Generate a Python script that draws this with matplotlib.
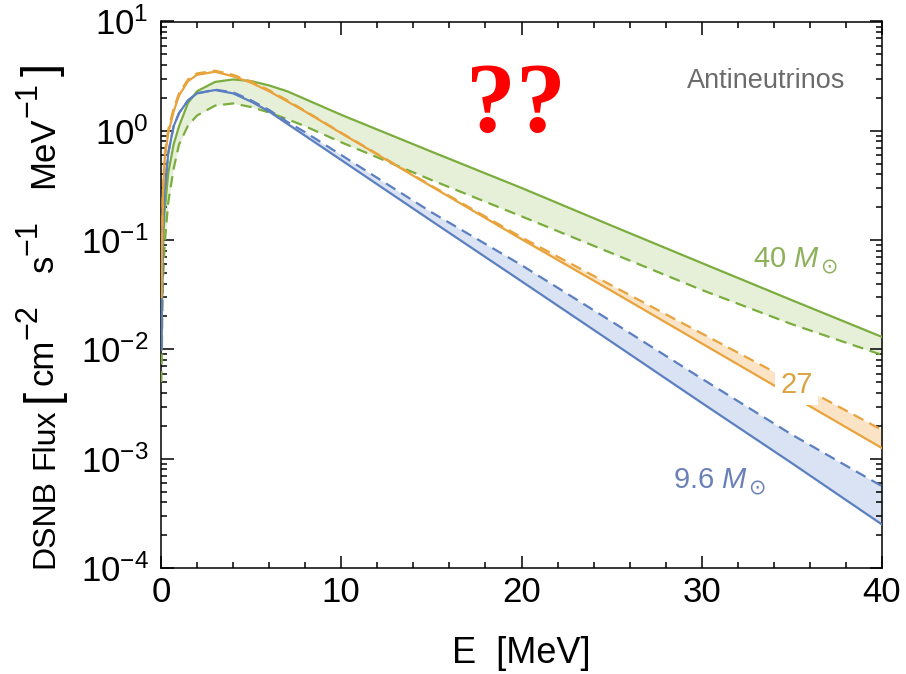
import matplotlib
matplotlib.use("Agg")
import matplotlib.pyplot as plt
from matplotlib.ticker import LogLocator, MultipleLocator, NullFormatter

plt.rcParams["font.family"] = ["Liberation Sans", "DejaVu Sans"]
plt.rcParams["mathtext.fontset"] = "custom"
plt.rcParams["mathtext.rm"] = "Liberation Sans"
plt.rcParams["mathtext.it"] = "Liberation Sans:italic"
plt.rcParams["mathtext.bf"] = "Liberation Sans:bold"

# Energy grid (MeV) and fluxes
energy = [0.02, 0.1, 0.2, 0.4, 0.7, 1.0, 1.5, 2.0, 3.0, 4.0, 5.0, 6.0, 7.0, 8.0,
          10, 15, 20, 25, 30, 35, 40]

flux_96_solid = [0.01, 0.12, 0.28, 0.62, 1.1, 1.45, 1.9, 2.2, 2.36, 2.2, 1.85,
                 1.5, 1.16, 0.9, 0.54, 0.15, 0.042, 0.0117, 0.00324, 0.00091, 0.00025]
flux_96_dashed = [0.01, 0.12, 0.28, 0.62, 1.1, 1.45, 1.9, 2.2, 2.38, 2.25, 1.9,
                  1.55, 1.21, 0.97, 0.60, 0.18, 0.059, 0.018, 0.0054, 0.00166, 0.00056]

flux_27_solid = [0.03, 0.25, 0.55, 0.95, 1.5, 2.1, 2.85, 3.25, 3.47, 3.15, 2.75,
                 2.3, 1.86, 1.5, 0.95, 0.31, 0.102, 0.0343, 0.01135, 0.00376, 0.00125]
flux_27_dashed = [0.03, 0.27, 0.6, 1.02, 1.6, 2.2, 2.95, 3.35, 3.55, 3.25, 2.82,
                  2.35, 1.9, 1.52, 0.96, 0.315, 0.106, 0.0385, 0.0140, 0.0051, 0.00183]

flux_40_solid = [0.01, 0.08, 0.18, 0.41, 0.75, 1.1, 1.8, 2.3, 2.8, 2.95, 2.85,
                 2.6, 2.3, 1.95, 1.4, 0.645, 0.3, 0.1355, 0.0617, 0.0282, 0.013]
flux_40_dashed = [0.005, 0.04, 0.09, 0.22, 0.45, 0.75, 1.12, 1.38, 1.7, 1.78, 1.65,
                  1.47, 1.28, 1.1, 0.785, 0.355, 0.165, 0.076, 0.035, 0.017, 0.0089]

blue = "#5b7fc0"
orange = "#e8a33c"
green = "#7bad3e"

W, H = 906, 674
fig = plt.figure(figsize=(W / 100, H / 100), dpi=100)
ax = fig.add_axes([161 / W, 1 - 568 / H, 721 / W, 546.5 / H])

# shaded bands between solid and dashed
ax.fill_between(energy, flux_40_solid, flux_40_dashed, color="#e6f0d8", lw=0, zorder=1)
ax.fill_between(energy, flux_96_solid, flux_96_dashed, color="#dae3f3", lw=0, zorder=1)
ax.fill_between(energy, flux_27_solid, flux_27_dashed, color="#fbe4c6", lw=0, zorder=1)

dash = (0, (5, 3))
ax.plot(energy, flux_40_solid, color=green, lw=1.6, zorder=3)
ax.plot(energy, flux_40_dashed, color=green, lw=1.6, ls=dash, zorder=3)
ax.plot(energy, flux_96_solid, color=blue, lw=1.6, zorder=3)
ax.plot(energy, flux_96_dashed, color=blue, lw=1.6, ls=dash, zorder=3)
ax.plot(energy, flux_27_solid, color=orange, lw=1.6, zorder=3)
ax.plot(energy, flux_27_dashed, color=orange, lw=1.6, ls=dash, zorder=3)

ax.set_yscale("log")
ax.set_xlim(0, 40)
ax.set_ylim(1e-4, 10)

ax.xaxis.set_major_locator(MultipleLocator(10))
ax.xaxis.set_minor_locator(MultipleLocator(2))
ax.yaxis.set_major_locator(LogLocator(base=10, numticks=10))
ax.yaxis.set_minor_locator(LogLocator(base=10, subs=range(2, 10), numticks=20))
ax.yaxis.set_minor_formatter(NullFormatter())

ax.tick_params(which="both", direction="in", top=True, right=True,
               labelsize=25, width=1.1)
ax.tick_params(which="major", length=9)
ax.tick_params(which="minor", length=4.5)
ax.tick_params(axis="x", pad=6)
ax.tick_params(axis="y", pad=9)
for s in ax.spines.values():
    s.set_linewidth(1.1)

ax.set_xlabel("E  [MeV]", fontsize=26, labelpad=19)

# y label built piece by piece: tall brackets, large superscripts
# (text, fontsize, gap before in px, raise in px)
renderer = fig.canvas.get_renderer()
pieces = [("DSNB", 23, 0, 0), ("Flux", 23, 10, 0), ("[", 34, 6, -2),
          ("cm", 25, 4, 0), ("\u22122", 22, 0, 16),
          ("s", 25, 32, 0), ("\u22121", 22, 0, 16),
          ("MeV", 25, 32, 0), ("\u22121", 22, 0, 16), ("]", 34, 6, -2)]
y_px = 568
for text, size, gap, lift in pieces:
    y_px -= gap
    t = fig.text((53 - lift) / W, 1 - y_px / H, text, fontsize=size, rotation=90,
                 rotation_mode="anchor", ha="left", va="baseline")
    ext = t.get_window_extent(renderer)
    y_px = H - ext.y1

ax.text(33.6, 2.46, "Antineutrinos", color="#6b6b6b", fontsize=19.5,
        ha="center", va="baseline", zorder=5)

# mass labels: "M" followed by a larger sun symbol set slightly low
for xe, ye, txt, col in [(36.55, 0.0566, r"40 $M$", "#8db05a"),
                         (32.56, 5.37e-4, r"9.6 $M$", "#6a80b8")]:
    ax.text(xe, ye, txt, color=col, fontsize=21, ha="right", va="baseline", zorder=5)
    ax.annotate("\u2299", xy=(xe, ye), xytext=(0.5, -4.5), textcoords="offset points",
                color=col, fontsize=15, family="DejaVu Sans",
                ha="left", va="baseline", zorder=5)

ax.text(35.25, 0.00398, "27", color="#d9a441", fontsize=21, ha="center",
        va="baseline", zorder=5,
        bbox=dict(facecolor="white", edgecolor="none", pad=4))
ax.text(19.7, 1.0, "??", color="red", fontsize=72, fontweight="bold",
        family="Liberation Serif", ha="center", va="baseline", zorder=6)

fig.savefig("out.png", dpi=100)
